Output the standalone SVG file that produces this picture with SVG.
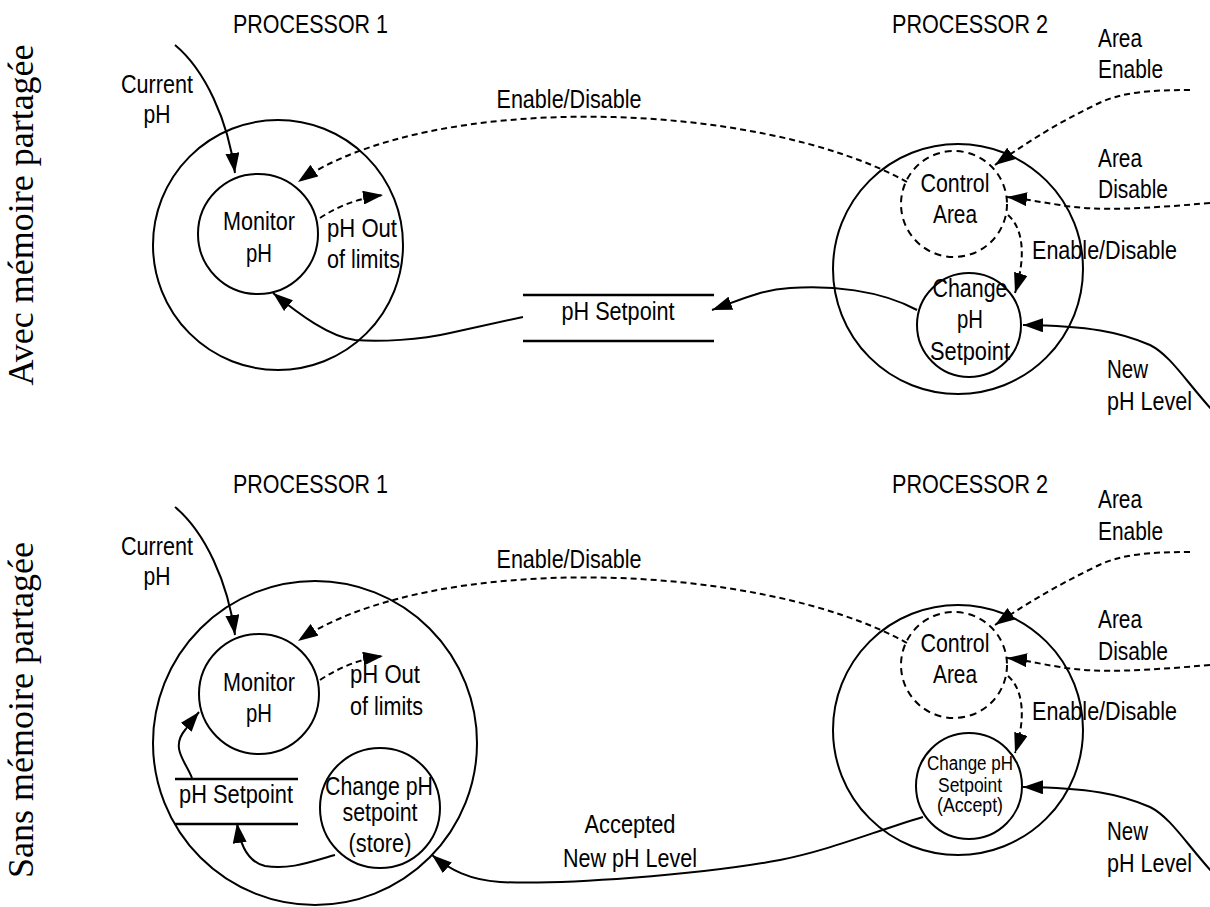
<svg xmlns="http://www.w3.org/2000/svg" width="1210" height="907" viewBox="0 0 1210 907">
  <style>
    .bg { fill: #ffffff; }
    .node { fill: none; stroke: #000; stroke-width: 2; }
    .dnode { fill: none; stroke: #000; stroke-width: 2; stroke-dasharray: 7 5; }
    .flow { fill: none; stroke: #000; stroke-width: 2; marker-end: url(#head); }
    .ctrl { fill: none; stroke: #000; stroke-width: 2; stroke-dasharray: 6 4; marker-end: url(#head); }
    .store { stroke: #000; stroke-width: 2.5; }
    .t { font-family: "Liberation Sans", Arial, sans-serif; font-size: 25px; fill: #000; }
    .ts { font-family: "Liberation Sans", Arial, sans-serif; font-size: 20px; fill: #000; }
    .mid { text-anchor: middle; }
    .side { font-family: "Liberation Serif", "Times New Roman", serif; font-size: 36px; fill: #000; text-anchor: middle; }
  </style>
  <defs>
    <marker id="head" markerUnits="userSpaceOnUse" markerWidth="20" markerHeight="14" refX="20" refY="7" orient="auto">
      <path d="M0,0 L20,7 L0,14 z" fill="#000"/>
    </marker>
  </defs>

  <rect class="bg" x="0" y="0" width="1210" height="907"/>

  <!-- section titles -->
  <text class="side" transform="translate(33,215) rotate(-90)">Avec mémoire partagée</text>
  <text class="side" transform="translate(33,710) rotate(-90)">Sans mémoire partagée</text>

  <!-- ===== shared memory variant ===== -->
  <g id="proc1-top">
    <text class="t" x="233" y="33" textLength="155" lengthAdjust="spacingAndGlyphs">PROCESSOR 1</text>
    <circle class="node" cx="278" cy="245" r="125"/>
  </g>
  <g id="monitor-top">
    <circle class="node" cx="258" cy="234" r="60"/>
    <text class="t mid" x="259" y="230" textLength="72" lengthAdjust="spacingAndGlyphs">Monitor</text>
    <text class="t mid" x="259" y="262" textLength="26" lengthAdjust="spacingAndGlyphs">pH</text>
  </g>
  <g id="store-top">
    <line class="store" x1="523" y1="295" x2="714" y2="295"/>
    <line class="store" x1="523" y1="341" x2="714" y2="341"/>
    <text class="t mid" x="618" y="320" textLength="113" lengthAdjust="spacingAndGlyphs">pH Setpoint</text>
  </g>
  <g id="proc2-top">
    <text class="t" x="892" y="33" textLength="156" lengthAdjust="spacingAndGlyphs">PROCESSOR 2</text>
    <circle class="node" cx="958" cy="269" r="125"/>
  </g>
  <g id="control-top">
    <circle class="dnode" cx="954" cy="204" r="53"/>
    <text class="t mid" x="955" y="192" textLength="69" lengthAdjust="spacingAndGlyphs">Control</text>
    <text class="t mid" x="955" y="223" textLength="44" lengthAdjust="spacingAndGlyphs">Area</text>
  </g>
  <g id="change-top">
    <circle class="node" cx="969" cy="325" r="52"/>
    <text class="t mid" x="970" y="297" textLength="75" lengthAdjust="spacingAndGlyphs">Change</text>
    <text class="t mid" x="970" y="328" textLength="26" lengthAdjust="spacingAndGlyphs">pH</text>
    <text class="t mid" x="970" y="360" textLength="80" lengthAdjust="spacingAndGlyphs">Setpoint</text>
  </g>

  <!-- ===== no shared memory variant ===== -->
  <g id="proc1-bottom">
    <text class="t" x="233" y="493" textLength="155" lengthAdjust="spacingAndGlyphs">PROCESSOR 1</text>
    <circle class="node" cx="315" cy="743" r="162"/>
  </g>
  <g id="monitor-bottom">
    <circle class="node" cx="259" cy="694" r="60"/>
    <text class="t mid" x="259" y="691" textLength="72" lengthAdjust="spacingAndGlyphs">Monitor</text>
    <text class="t mid" x="259" y="722" textLength="26" lengthAdjust="spacingAndGlyphs">pH</text>
  </g>
  <g id="store-bottom">
    <line class="store" x1="175" y1="779" x2="298" y2="779"/>
    <line class="store" x1="175" y1="824" x2="298" y2="824"/>
    <text class="t mid" x="236" y="803" textLength="114" lengthAdjust="spacingAndGlyphs">pH Setpoint</text>
  </g>
  <g id="change-store-bottom">
    <circle class="node" cx="380" cy="808" r="60"/>
    <text class="t mid" x="379" y="795" textLength="108" lengthAdjust="spacingAndGlyphs">Change pH</text>
    <text class="t mid" x="380" y="821" textLength="75" lengthAdjust="spacingAndGlyphs">setpoint</text>
    <text class="t mid" x="380" y="852" textLength="63" lengthAdjust="spacingAndGlyphs">(store)</text>
  </g>
  <g id="proc2-bottom">
    <text class="t" x="892" y="493" textLength="156" lengthAdjust="spacingAndGlyphs">PROCESSOR 2</text>
    <circle class="node" cx="958" cy="730" r="125"/>
  </g>
  <g id="control-bottom">
    <circle class="dnode" cx="954" cy="665" r="53"/>
    <text class="t mid" x="955" y="652" textLength="69" lengthAdjust="spacingAndGlyphs">Control</text>
    <text class="t mid" x="955" y="683" textLength="44" lengthAdjust="spacingAndGlyphs">Area</text>
  </g>
  <g id="change-accept-bottom">
    <circle class="node" cx="969" cy="786" r="53"/>
    <text class="ts mid" x="970" y="770" textLength="86" lengthAdjust="spacingAndGlyphs">Change pH</text>
    <text class="ts mid" x="970" y="792" textLength="64" lengthAdjust="spacingAndGlyphs">Setpoint</text>
    <text class="ts mid" x="970" y="812" textLength="66" lengthAdjust="spacingAndGlyphs">(Accept)</text>
  </g>

  <!-- connectors -->
  <g id="connectors">
    <!-- upper -->
    <path class="flow" d="M175,45 C205,70 228,120 235,173"/>
    <path class="ctrl" d="M907,182 C760,100 430,90 298,182"/>
    <path class="ctrl" d="M320,218 C340,205 360,198 383,195"/>
    <path class="flow" d="M917,310 C880,290 830,285 790,288 C760,290 740,300 712,310"/>
    <path class="flow" d="M523,317 L450,333 C420,340 380,342 355,340 C330,337 300,315 273,293"/>
    <path class="ctrl" d="M1190,90 C1150,90 1120,92 1095,105 C1060,122 1030,140 995,165"/>
    <path class="ctrl" d="M1210,203 C1150,208 1100,212 1060,205 C1040,202 1025,199 1007,197"/>
    <path class="ctrl" d="M1008,215 C1025,230 1025,260 1015,293"/>
    <path class="flow" d="M1212,410 C1185,380 1170,355 1150,345 C1120,332 1090,326 1023,325"/>

    <!-- lower -->
    <path class="flow" d="M175,507 C205,532 228,582 235,635"/>
    <path class="ctrl" d="M907,643 C760,561 430,551 298,641"/>
    <path class="ctrl" d="M320,680 C340,667 360,659 383,656"/>
    <path class="flow" d="M192,778 C186,762 170,748 185,730 C190,724 194,718 199,712"/>
    <path class="flow" d="M335,855 C310,862 290,870 265,866 C248,862 240,845 237,823"/>
    <path class="flow" d="M923,817 C870,833 830,850 780,860 C700,875 560,885 500,882 C470,880 450,870 432,855"/>
    <path class="ctrl" d="M1190,552 C1150,552 1120,554 1095,567 C1060,584 1030,601 995,625"/>
    <path class="ctrl" d="M1210,665 C1150,670 1100,674 1060,667 C1040,664 1025,660 1007,658"/>
    <path class="ctrl" d="M1008,676 C1025,691 1025,721 1015,753"/>
    <path class="flow" d="M1212,872 C1185,842 1170,817 1150,807 C1120,794 1090,788 1023,787"/>
  </g>

  <!-- flow labels -->
  <g id="labels">
    <text class="t mid" x="157" y="93" textLength="72" lengthAdjust="spacingAndGlyphs">Current</text>
    <text class="t mid" x="157" y="123" textLength="27" lengthAdjust="spacingAndGlyphs">pH</text>
    <text class="t mid" x="569" y="108" textLength="145" lengthAdjust="spacingAndGlyphs">Enable/Disable</text>
    <text class="t" x="327" y="237" textLength="70" lengthAdjust="spacingAndGlyphs">pH Out</text>
    <text class="t" x="327" y="268" textLength="73" lengthAdjust="spacingAndGlyphs">of limits</text>
    <text class="t" x="1098" y="47" textLength="44" lengthAdjust="spacingAndGlyphs">Area</text>
    <text class="t" x="1098" y="78" textLength="65" lengthAdjust="spacingAndGlyphs">Enable</text>
    <text class="t" x="1098" y="167" textLength="44" lengthAdjust="spacingAndGlyphs">Area</text>
    <text class="t" x="1098" y="198" textLength="70" lengthAdjust="spacingAndGlyphs">Disable</text>
    <text class="t" x="1032" y="259" textLength="145" lengthAdjust="spacingAndGlyphs">Enable/Disable</text>
    <text class="t" x="1107" y="378" textLength="41" lengthAdjust="spacingAndGlyphs">New</text>
    <text class="t" x="1107" y="410" textLength="85" lengthAdjust="spacingAndGlyphs">pH Level</text>

    <text class="t mid" x="157" y="555" textLength="72" lengthAdjust="spacingAndGlyphs">Current</text>
    <text class="t mid" x="157" y="585" textLength="27" lengthAdjust="spacingAndGlyphs">pH</text>
    <text class="t mid" x="569" y="568" textLength="145" lengthAdjust="spacingAndGlyphs">Enable/Disable</text>
    <text class="t" x="350" y="683" textLength="70" lengthAdjust="spacingAndGlyphs">pH Out</text>
    <text class="t" x="350" y="715" textLength="73" lengthAdjust="spacingAndGlyphs">of limits</text>
    <text class="t" x="1098" y="508" textLength="44" lengthAdjust="spacingAndGlyphs">Area</text>
    <text class="t" x="1098" y="540" textLength="65" lengthAdjust="spacingAndGlyphs">Enable</text>
    <text class="t" x="1098" y="628" textLength="44" lengthAdjust="spacingAndGlyphs">Area</text>
    <text class="t" x="1098" y="660" textLength="70" lengthAdjust="spacingAndGlyphs">Disable</text>
    <text class="t" x="1032" y="720" textLength="145" lengthAdjust="spacingAndGlyphs">Enable/Disable</text>
    <text class="t mid" x="630" y="833" textLength="91" lengthAdjust="spacingAndGlyphs">Accepted</text>
    <text class="t mid" x="630" y="867" textLength="134" lengthAdjust="spacingAndGlyphs">New pH Level</text>
    <text class="t" x="1107" y="840" textLength="41" lengthAdjust="spacingAndGlyphs">New</text>
    <text class="t" x="1107" y="872" textLength="85" lengthAdjust="spacingAndGlyphs">pH Level</text>
  </g>
</svg>
